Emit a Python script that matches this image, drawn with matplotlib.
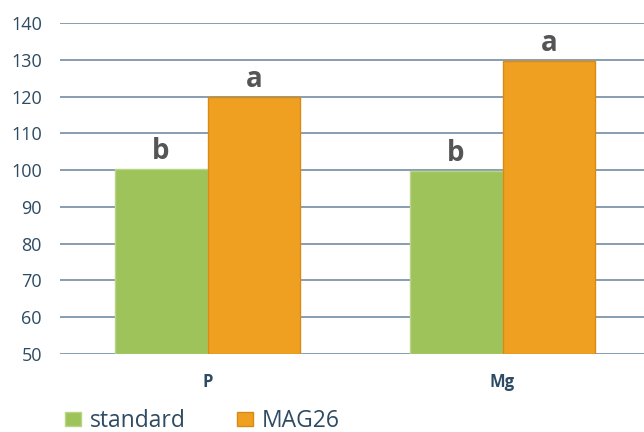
import matplotlib.pyplot as plt
import numpy as np
from matplotlib.patches import Patch

categories = ["P", "Mg"]
series_names = ["standard", "MAG26"]
standard_vals = [100.2, 99.7]
mag26_vals = [120.0, 129.7]
standard_letters = ["b", "b"]
mag26_letters = ["a", "a"]
y_ticks = [50, 60, 70, 80, 90, 100, 110, 120, 130, 140]

green = "#9DC35A"
orange = "#F0A020"
text_col = "#2D4B63"
grid_col = "#7E96AA"

plt.rcParams['font.family'] = ['Open Sans', 'DejaVu Sans']

fig = plt.figure(figsize=(6.44, 4.32), dpi=100)
ax = fig.add_axes([60 / 644, 1 - 354 / 432, 590 / 644, (354 - 23) / 432])

x = np.arange(len(categories))
w = 0.315
ax.bar(x - w / 2, np.array(standard_vals) - 50, w, bottom=50, color=green,
       edgecolor="#B9D585", linewidth=1.0, zorder=3)
ax.bar(x + w / 2, np.array(mag26_vals) - 50, w, bottom=50, color=orange,
       edgecolor="#D88A15", linewidth=1.0, zorder=3)

for i in range(len(categories)):
    ax.text(x[i] - w / 2, standard_vals[i] + 0.8, standard_letters[i], ha="center", va="bottom",
            fontsize=20, fontweight="bold", color="#555555", clip_on=False)
    ax.text(x[i] + w / 2, mag26_vals[i] + 0.8, mag26_letters[i], ha="center", va="bottom",
            fontsize=20, fontweight="bold", color="#555555", clip_on=False)

ax.set_xlim(-0.5, len(categories) - 0.5)
ax.set_ylim(50, 140)
ax.set_yticks(y_ticks)
ax.set_yticklabels([str(v) for v in y_ticks], fontsize=13, color=text_col)
ax.set_xticks(x)
ax.set_xticklabels(categories, fontsize=12, fontweight="bold", color=text_col)
ax.tick_params(axis="both", length=0)
ax.tick_params(axis="x", pad=14)
ax.tick_params(axis="y", pad=13)
ax.yaxis.grid(True, color=grid_col, linewidth=1.3, zorder=0)
ax.set_axisbelow(True)
for s in ax.spines.values():
    s.set_visible(False)

handles = [Patch(facecolor=green, edgecolor="#B9D585"), Patch(facecolor=orange, edgecolor="#D88A15")]
fig.legend(handles, series_names, loc="center left", bbox_to_anchor=(65 / 644, 1 - 421 / 432),
           ncol=2, frameon=False, borderpad=0, borderaxespad=0,
           handlelength=0.7, handleheight=0.6, handletextpad=0.4,
           columnspacing=2.2, prop={"size": 16.5}, labelcolor=text_col)

fig.savefig("out.png", dpi=100)
